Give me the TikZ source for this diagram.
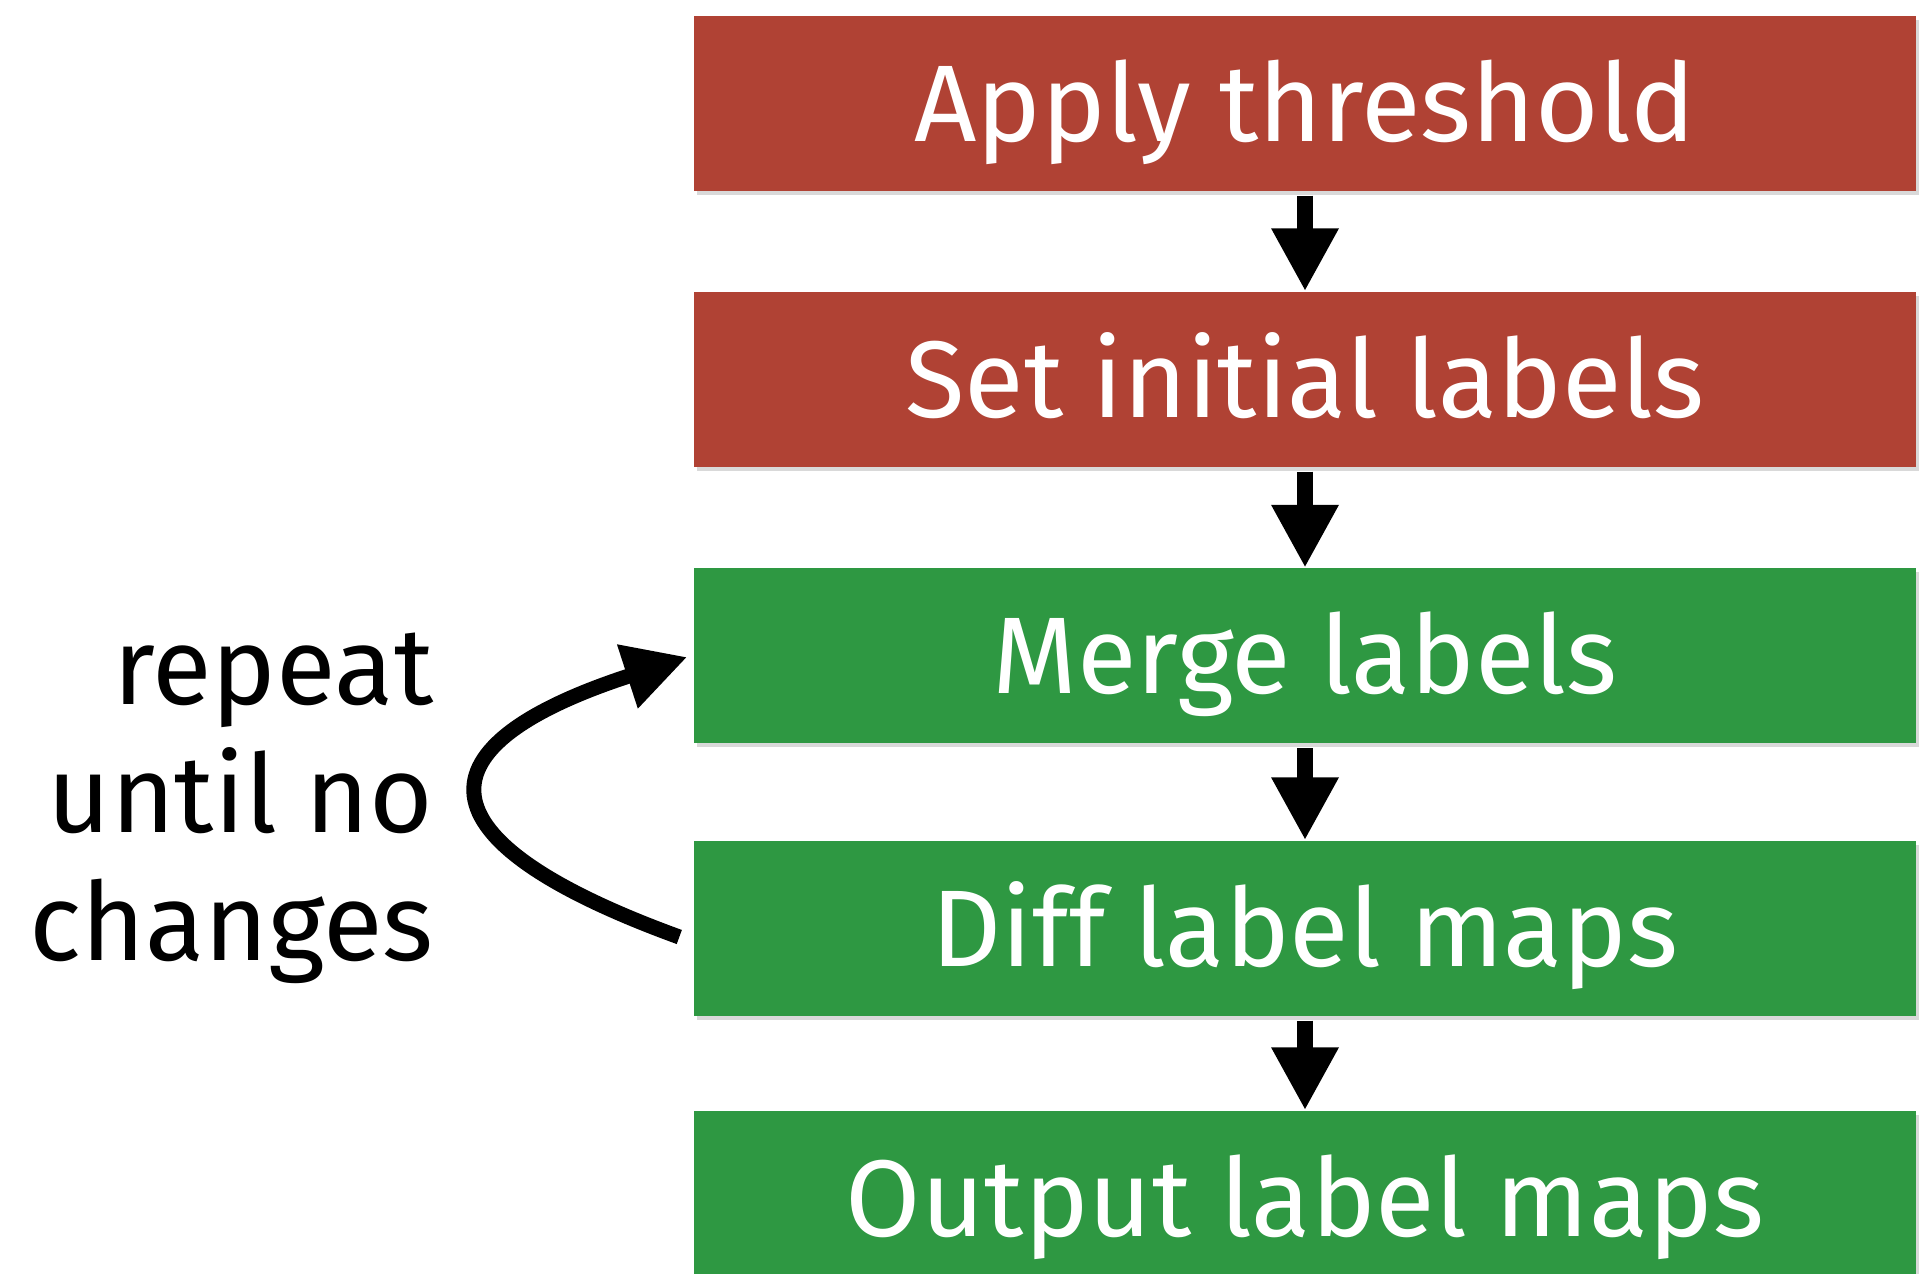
\documentclass[tikz,border=0pt]{standalone}
\usepackage{fontspec}
\setmainfont{Fira Sans}
\usetikzlibrary{arrows.meta,shadows}

\definecolor{stepred}{RGB}{176,66,52}
\definecolor{stepgreen}{RGB}{46,152,66}

\tikzset{
  stepbox/.style={minimum width=12.22cm, minimum height=1.75cm, inner sep=0pt,
    text=white, font=\fontsize{31}{36}\selectfont, text height=21.4pt, text depth=0pt,
    drop shadow={shadow xshift=0.03cm, shadow yshift=-0.04cm, opacity=0.3}},
  flow/.style={line width=0.16cm, -{Triangle[width=0.63cm,length=0.63cm]}, shorten <=0.04cm},
}

\begin{document}
\begin{tikzpicture}
  \useasboundingbox (0,0) rectangle (19.26,-12.74);
  \clip (0,0) rectangle (19.26,-12.74);

  % Steps
  \node[stepbox, fill=stepred] (thresh) at (13.05,-1.035) {Apply threshold};
  \node[stepbox, fill=stepred] (init) at (13.05,-3.795) {Set initial labels};
  \node[stepbox, fill=stepgreen] (merge) at (13.05,-6.56) {Merge labels};
  \node[stepbox, fill=stepgreen] (diff) at (13.05,-9.285) {Diff label maps};
  \node[stepbox, fill=stepgreen] (output) at (13.05,-11.985) {Output label maps};

  % Arrows
  \draw[flow] (thresh) -- (init);
  \draw[flow] (init) -- (merge);
  \draw[flow] (merge) -- (diff);
  \draw[flow] (diff) -- (output);

  % Loop back
  \draw[flow, line width=0.15cm, shorten <=0pt]
    ([xshift=-0.14cm,yshift=-0.085cm]diff.west) to[out=160, in=198, looseness=2.6]
    ([xshift=-0.06cm,yshift=-0.01cm]merge.west);
  \node[align=right, anchor=base east, inner sep=0pt, font=\fontsize{31}{36.4}\selectfont]
    (repeat) at (4.34,-9.60) {repeat\\until no\\changes};
\end{tikzpicture}
\end{document}
